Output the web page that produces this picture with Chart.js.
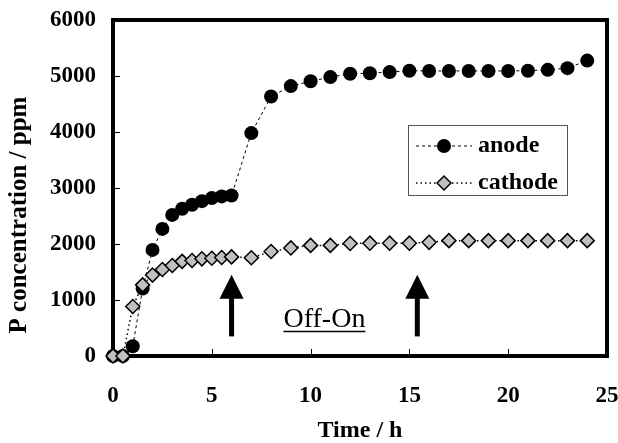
<!DOCTYPE html>
<html>
<head>
<meta charset="utf-8">
<script src="https://cdn.jsdelivr.net/npm/chart.js@4/dist/chart.umd.min.js"></script>
<style>
  html, body { margin: 0; padding: 0; background: #fff; }
</style>
</head>
<body>
<canvas id="chart" width="618" height="443"></canvas>
<script>
// time points (h) and measured P concentration (ppm)
const timeHours = [0, 0.5, 1, 1.5, 2, 2.5, 3, 3.5, 4, 4.5, 5, 5.5, 6,
    7, 8, 9, 10, 11, 12, 13, 14, 15, 16, 17, 18, 19, 20, 21, 22, 23, 24];
const anodePpm = [0, 0, 175, 1205, 1895, 2270, 2520, 2630, 2700, 2765, 2820, 2850, 2865,
    3980, 4635, 4820, 4905, 4980, 5040, 5050, 5070, 5095, 5090, 5090, 5090, 5090, 5090, 5095, 5110, 5140, 5275];
const cathodePpm = [0, 0, 885, 1270, 1445, 1545, 1615, 1690, 1705, 1735, 1745, 1760, 1770,
    1755, 1865, 1930, 1975, 1975, 2010, 2015, 2015, 2015, 2030, 2060, 2060, 2060, 2060, 2060, 2060, 2060, 2060];

// axis ranges
const xRange = [0, 25];
const xStep = 5;
const yRange = [0, 6000];
const yStep = 1000;
const xTitle = 'Time / h';
const yTitle = 'P concentration / ppm';

// current switch markers (Off-On)
const switchTimes = [6, 15.4];
const arrowFromPpm = 350;
const arrowToPpm = 1450;
const switchLabel = 'Off-On';
const switchLabelAt = [10.7, 510];

const SERIF = "'Liberation Serif', 'Times New Roman', serif";

function toPoints(values) {
    return timeHours.map((t, i) => ({ x: t, y: values[i] }));
}

const framePlugin = {
    id: 'frame',
    beforeDatasetsDraw(chart) {
        const { ctx, chartArea: a, scales: { x, y } } = chart;
        ctx.save();
        ctx.strokeStyle = '#000';
        // inward tick marks
        ctx.lineWidth = 1;
        ctx.beginPath();
        for (let v = yRange[0] + yStep; v < yRange[1]; v += yStep) {
            const py = Math.round(y.getPixelForValue(v)) + 0.5;
            ctx.moveTo(a.left, py);
            ctx.lineTo(a.left + 7, py);
        }
        for (let v = xRange[0] + xStep; v < xRange[1]; v += xStep) {
            const px = Math.round(x.getPixelForValue(v)) + 0.5;
            ctx.moveTo(px, a.bottom);
            ctx.lineTo(px, a.bottom - 7);
        }
        ctx.stroke();
        ctx.lineWidth = 4;
        ctx.strokeRect(a.left, a.top, a.right - a.left, a.bottom - a.top);

        // y axis title, sits a little below the middle of the axis
        ctx.fillStyle = '#000';
        ctx.font = `bold 25px ${SERIF}`;
        ctx.textAlign = 'center';
        ctx.textBaseline = 'middle';
        ctx.translate(20, (a.top + a.bottom) / 2 + 27);
        ctx.rotate(-Math.PI / 2);
        ctx.fillText(yTitle, 0, 0);
        ctx.restore();
    },
    afterDatasetsDraw(chart) {
        const { ctx, chartArea: a, scales: { x, y } } = chart;
        ctx.save();
        ctx.fillStyle = '#000';
        ctx.strokeStyle = '#000';

        // arrows
        switchTimes.forEach(t => {
            const px = x.getPixelForValue(t);
            const yTip = y.getPixelForValue(arrowToPpm);
            const yBase = y.getPixelForValue(arrowFromPpm);
            ctx.lineWidth = 5;
            ctx.beginPath();
            ctx.moveTo(px, yBase);
            ctx.lineTo(px, yTip + 20);
            ctx.stroke();
            ctx.beginPath();
            ctx.moveTo(px, yTip);
            ctx.lineTo(px - 12, yTip + 24);
            ctx.lineTo(px + 12, yTip + 24);
            ctx.closePath();
            ctx.fill();
        });

        // Off-On label, underlined
        ctx.font = `28px ${SERIF}`;
        ctx.textAlign = 'center';
        ctx.textBaseline = 'alphabetic';
        const lx = x.getPixelForValue(switchLabelAt[0]);
        const ly = y.getPixelForValue(switchLabelAt[1]);
        ctx.fillText(switchLabel, lx, ly);
        const w = ctx.measureText(switchLabel).width;
        ctx.lineWidth = 1.5;
        ctx.beginPath();
        ctx.moveTo(lx - w / 2, ly + 4);
        ctx.lineTo(lx + w / 2, ly + 4);
        ctx.stroke();

        // legend box
        const bx = a.right - 199, by = a.top + 105, bw = 159, bh = 70;
        ctx.fillStyle = '#fff';
        ctx.fillRect(bx, by, bw, bh);
        ctx.strokeStyle = '#555';
        ctx.lineWidth = 1;
        ctx.strokeRect(bx + 0.5, by + 0.5, bw, bh);

        chart.data.datasets.forEach((ds, i) => {
            const ry = by + 21 + i * 37;
            ctx.strokeStyle = ds.borderColor;
            ctx.lineWidth = ds.borderWidth;
            ctx.setLineDash(ds.borderDash);
            ctx.beginPath();
            ctx.moveTo(bx + 8, ry);
            ctx.lineTo(bx + 64, ry);
            ctx.stroke();
            ctx.setLineDash([]);
            ctx.fillStyle = ds.pointBackgroundColor;
            ctx.strokeStyle = ds.pointBorderColor;
            ctx.lineWidth = ds.pointBorderWidth;
            Chart.helpers.drawPoint(ctx, {
                pointStyle: ds.pointStyle,
                radius: ds.pointRadius,
                borderWidth: ds.pointBorderWidth,
                rotation: 0
            }, bx + 36, ry);
            ctx.fillStyle = '#000';
            ctx.font = `bold 24px ${SERIF}`;
            ctx.textAlign = 'left';
            ctx.textBaseline = 'middle';
            ctx.fillText(ds.label, bx + 70, ry);
        });
        ctx.restore();
    }
};

const tickFont = { family: SERIF, size: 23, weight: 'bold' };

new Chart(document.getElementById('chart'), {
    type: 'line',
    data: {
        datasets: [
            {
                label: 'anode',
                data: toPoints(anodePpm),
                borderColor: '#000',
                borderWidth: 1,
                borderDash: [3, 3],
                pointStyle: 'circle',
                pointRadius: 7,
                pointBackgroundColor: '#000',
                pointBorderColor: '#000',
                pointBorderWidth: 0,
                order: 2,
                clip: false
            },
            {
                label: 'cathode',
                data: toPoints(cathodePpm),
                borderColor: '#000',
                borderWidth: 1.5,
                borderDash: [1.5, 3],
                pointStyle: 'rectRot',
                pointRadius: 7,
                pointBackgroundColor: '#c0c0c0',
                pointBorderColor: '#000',
                pointBorderWidth: 1.5,
                order: 1,
                clip: false
            }
        ]
    },
    options: {
        responsive: false,
        animation: false,
        layout: { padding: { top: 20, right: 11, left: 0, bottom: 0 } },
        plugins: { legend: { display: false }, tooltip: { enabled: false } },
        scales: {
            x: {
                type: 'linear',
                min: xRange[0],
                max: xRange[1],
                ticks: { stepSize: xStep, padding: 26, color: '#000', font: tickFont },
                grid: { display: false, drawTicks: false },
                border: { display: false },
                title: { display: true, text: xTitle, color: '#000', padding: { top: 0, bottom: 0 },
                    font: { family: SERIF, size: 24, weight: 'bold', lineHeight: 1 } },
                afterFit(scale) {
                    scale.height = 87;
                    scale.paddingLeft = 0;
                    scale.paddingRight = 0;
                }
            },
            y: {
                min: yRange[0],
                max: yRange[1],
                ticks: { stepSize: yStep, padding: 17, color: '#000', font: tickFont, format: { useGrouping: false } },
                grid: { display: false, drawTicks: false },
                border: { display: false },
                afterFit(scale) {
                    scale.width = 113;
                    scale.paddingTop = 0;
                    scale.paddingBottom = 0;
                }
            }
        }
    },
    plugins: [framePlugin]
});
</script>
</body>
</html>
